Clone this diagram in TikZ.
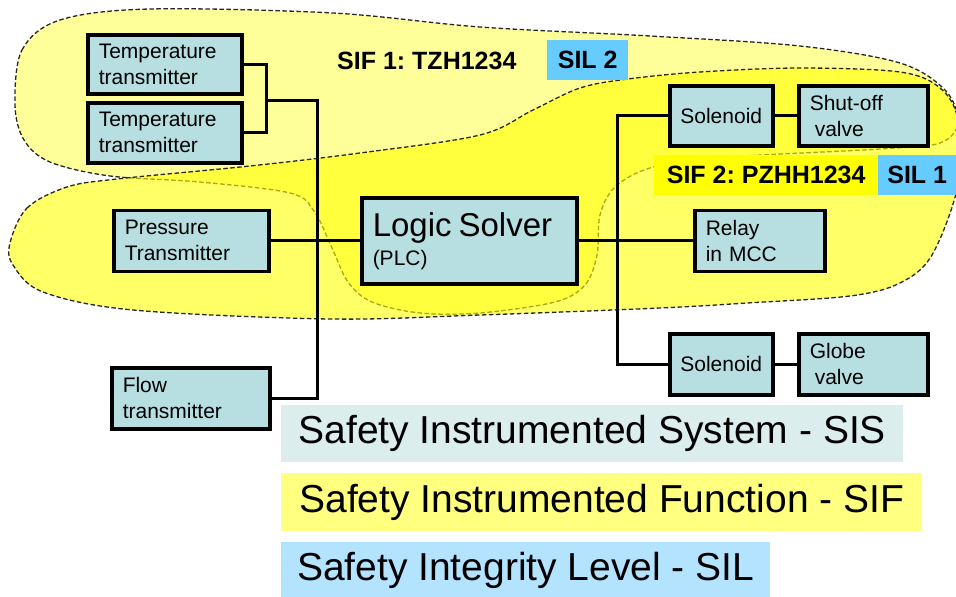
\documentclass[tikz,border=0pt]{standalone}
\usepackage{fontspec}
\setmainfont{Liberation Sans}
\usetikzlibrary{positioning}
\frenchspacing

\definecolor{boxteal}{RGB}{183,222,224}
\definecolor{sifpale}{RGB}{255,255,153}
\definecolor{sifyellow}{RGB}{255,255,0}
\definecolor{silblue}{RGB}{102,204,255}
\definecolor{legsis}{RGB}{220,237,238}
\definecolor{legsif}{RGB}{255,255,128}
\definecolor{legsil}{RGB}{179,227,255}

\tikzset{
  instbox/.style={draw, line width=3.5pt, fill=boxteal, anchor=north west,
    align=left, inner xsep=11pt, inner ysep=0pt, minimum height=60pt,
    font=\fontsize{21}{26}\selectfont},
  wire/.style={line width=3pt},
  sifzone/.style={dash pattern=on 4.5pt off 2.5pt, line width=1.3pt, draw=black!85},
  tagbox/.style={anchor=north west, minimum height=40pt, inner xsep=0pt,
    font=\fontsize{25}{30}\selectfont\bfseries},
  legbox/.style={anchor=north west, minimum height=57pt, inner xsep=11pt,
    font=\fontsize{39}{44}\selectfont},
}

\begin{document}
\begin{tikzpicture}[x=1pt,y=-1pt]

\useasboundingbox (0,0) rectangle (956,597);

% SIF 1 zone
\draw[sifzone, fill=sifpale] plot[smooth cycle, tension=0.55] coordinates {
  (15,105) (22,50) (60,20) (150,9) (333,13) (480,27) (650,36) (800,46)
  (900,63) (945,90) (958,122) (940,143) (880,149) (713,158) (650,168)
  (615,187) (600,215) (597,255) (585,285) (555,302) (480,313) (420,313)
  (372,302) (348,282) (332,248) (314,211) (290,193) (200,182) (110,176)
  (50,162) (24,140)};
% SIF 2 zone
\draw[sifzone, fill=sifyellow, fill opacity=0.6] plot[smooth cycle, tension=0.55] coordinates {
  (10,243) (27,208) (67,187) (117,179) (250,166) (360,153) (480,135)
  (533,110) (580,88) (628,79) (700,72) (800,68) (900,72) (940,88)
  (958,120) (958,185) (932,255) (900,283) (850,296) (747,303) (660,308)
  (480,315) (330,319) (133,310) (43,292) (13,265)};

% labels
\node[tagbox, anchor=west] (sifOne) at (337,61) {SIF 1: TZH1234};
\node[tagbox, fill=silblue, minimum width=81pt] (silTwo) at (547,40) {SIL 2};
\node[tagbox, fill=sifyellow, minimum width=224pt] (sifTwo) at (654,155) {SIF 2: PZHH1234};
\node[tagbox, fill=silblue, minimum width=78pt] (silOne) at (878,155) {SIL 1};

% field devices and logic solver
\node[instbox, text width=132pt, minimum height=59pt] (tt1) at (86,33) {Temperature\\transmitter};
\node[instbox, text width=132pt] (tt2) at (86,101) {Temperature\\transmitter};
\node[instbox, text width=133pt, minimum height=61pt] (pt) at (112,208.5) {Pressure\\Transmitter};
\node[instbox, text width=136pt, minimum height=61pt] (flow) at (110,366) {Flow\\transmitter};
\node[instbox, text width=193pt, minimum height=86pt] (ls) at (360,196)
  {{\fontsize{33}{36}\selectfont Logic Solver}\\[3pt](PLC)};
\node[instbox, text width=108pt, minimum height=61pt] (relay) at (693,208.5) {Relay\\in MCC};
\node[instbox, text width=93pt, inner xsep=5pt, align=center] (sol1) at (668,84) {Solenoid};
\node[instbox, text width=107pt] (shut) at (797,84) {Shut-off\\\hspace*{5pt}valve};
\node[instbox, text width=93pt, inner xsep=5pt, align=center, minimum height=61pt] (sol2) at (668,332) {Solenoid};
\node[instbox, text width=107pt, minimum height=61pt] (globe) at (797,332) {Globe\\\hspace*{5pt}valve};

% wiring
\coordinate (cJoinT) at (266,100);
\coordinate (cBusL) at (317,100);
\coordinate (cBusR) at (617,240);
\draw[wire] (tt1.east) -| (cJoinT) |- (tt2.east);
\draw[wire] (cJoinT) -- (cBusL) |- (flow.east);
\draw[wire] (pt.east) -- (ls.west);
\draw[wire] (ls.east) -- (relay.west);
\draw[wire] (sol1.west) -| (cBusR) |- (sol2.west);
\draw[wire] (sol1) -- (shut);
\draw[wire] (sol2) -- (globe);

% legend
\node[legbox, fill=legsis, minimum width=622pt] (legSIS) at (281,405) {Safety Instrumented System - SIS};
\node[legbox, fill=legsif, minimum width=641pt, minimum height=58pt] (legSIF) at (281,473) {Safety Instrumented Function - SIF};
\node[legbox, fill=legsil, minimum width=489pt, minimum height=56pt] (legSIL) at (281,542) {Safety Integrity Level - SIL};

\end{tikzpicture}
\end{document}
